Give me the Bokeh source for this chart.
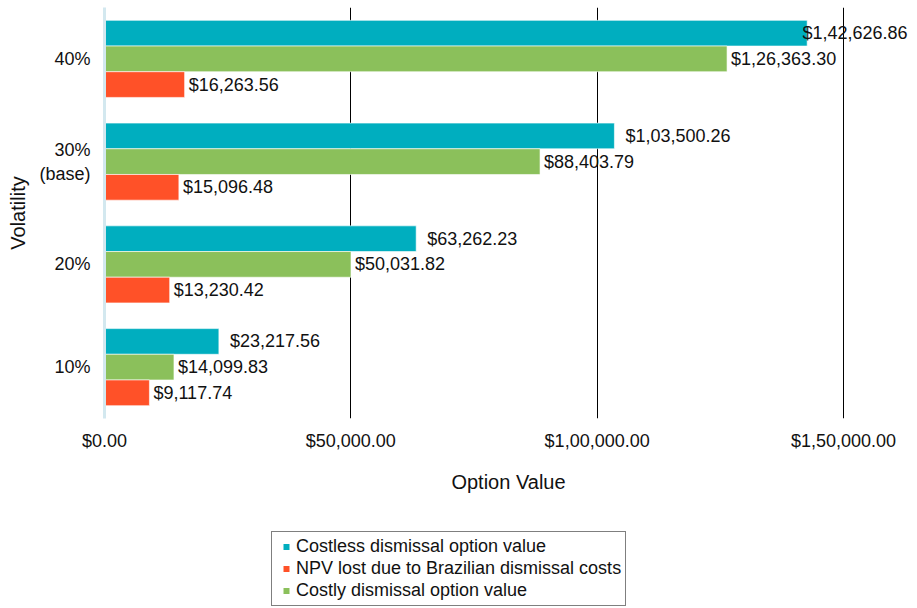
from bokeh.plotting import figure
from bokeh.layouts import column
from bokeh.models import (ColumnDataSource, Range1d, FactorRange, FixedTicker, Legend, LegendItem,
                          CustomJSTickFormatter)
from bokeh.transform import dodge
from bokeh.core.properties import value
from bokeh.embed import file_html
from bokeh.resources import INLINE

# ---- data ----
categories = ["10%", "20%", "30%\n(base)", "40%"]
costless = [23217.56, 63262.23, 103500.26, 142626.86]
costly = [14099.83, 50031.82, 88403.79, 126363.30]
npv_lost = [9117.74, 13230.42, 15096.48, 16263.56]
series_names = ["Costless dismissal option value", "NPV lost due to Brazilian dismissal costs",
                "Costly dismissal option value"]
x_ticks = [0, 50000, 100000, 150000]

TEAL = "#00AEBF"
GREEN = "#8BC05B"
RED = "#FF5128"
FONT = "Liberation Sans"
TXT = "#111111"


def inr(v):
    s = f"{v:.2f}"
    ip, dp = s.split(".")
    last3 = ip[-3:]
    rest = ip[:-3]
    groups = []
    while len(rest) > 2:
        groups.insert(0, rest[-2:])
        rest = rest[:-2]
    if rest:
        groups.insert(0, rest)
    head = ",".join(groups + [last3]) if groups else last3
    return "$" + head + "." + dp


def text_width(s, fs=18):
    w = 0
    for ch in s:
        w += 0.278 if ch in ",." else 0.556
    return w * fs


W, H = 917, 608
H2 = 88                      # legend strip height
H1 = H - H2
LEFT, TOP = 104, 7
FRAME_BOTTOM_PX = 418
AXIS_RIGHT_PX = 843          # pixel where the 150,000 gridline sits
FRAME_RIGHT_PX = 912
xmax = x_ticks[-1]
px_per_unit = (AXIS_RIGHT_PX - LEFT) / xmax
x_end = (FRAME_RIGHT_PX - LEFT) / px_per_unit

p = figure(width=W, height=H1, output_backend="svg", toolbar_location=None,
           x_range=Range1d(0, x_end), y_range=FactorRange(factors=categories),
           min_border_left=LEFT, min_border_right=W - FRAME_RIGHT_PX, min_border_top=TOP,
           min_border_bottom=H1 - FRAME_BOTTOM_PX)
p.outline_line_color = None
p.background_fill_color = "white"
p.border_fill_color = "white"

src = ColumnDataSource(dict(cat=categories, costless=costless, costly=costly, npv=npv_lost))

bh = 0.25
specs = [("costless", TEAL, 0.25, 11), ("costly", GREEN, 0.0, 4), ("npv", RED, -0.25, 4)]
for key, col, dd, off in specs:
    p.hbar(y=dodge("cat", dd, range=p.y_range), right=key, left=0, height=bh, source=src,
           fill_color=col, line_color="white", line_width=0.6)
    vals = src.data[key]
    labels = [inr(v) for v in vals]
    offs = []
    for v, lab in zip(vals, labels):
        end_px = LEFT + v * px_per_unit
        o = off
        limit = FRAME_RIGHT_PX - 5
        if end_px + o + text_width(lab) > limit:
            o = limit - text_width(lab) - end_px
        offs.append(o)
    lsrc = ColumnDataSource(dict(cat=categories, x=vals, text=labels, off=offs))
    p.text(x="x", y=dodge("cat", dd, range=p.y_range), text="text", x_offset="off", source=lsrc,
           text_font=value(FONT), text_font_size=value("18px"), text_baseline="middle",
           text_align="left", text_color=TXT)

# x axis
p.xaxis.ticker = FixedTicker(ticks=x_ticks)
p.xaxis.formatter = CustomJSTickFormatter(code="""
const s = tick.toFixed(2);
let [ip, dp] = s.split(".");
let last3 = ip.slice(-3);
let rest = ip.slice(0, -3);
const groups = [];
while (rest.length > 2) { groups.unshift(rest.slice(-2)); rest = rest.slice(0, -2); }
if (rest.length) groups.unshift(rest);
groups.push(last3);
return "$" + groups.join(",") + "." + dp;
""")
p.xaxis.axis_line_color = None
p.xaxis.major_tick_line_color = None
p.xaxis.minor_tick_line_color = None
p.xaxis.major_label_standoff = 6
p.xaxis.major_label_text_font = FONT
p.xaxis.major_label_text_font_size = "18px"
p.xaxis.major_label_text_color = TXT
p.xaxis.axis_label = "Option Value"
p.xaxis.axis_label_text_font = FONT
p.xaxis.axis_label_text_font_size = "20px"
p.xaxis.axis_label_text_font_style = "normal"
p.xaxis.axis_label_text_color = TXT
p.xaxis.axis_label_standoff = 17

# y axis
p.yaxis.axis_line_color = "#D3E8EF"
p.yaxis.axis_line_width = 3
p.yaxis.major_tick_line_color = None
p.yaxis.minor_tick_line_color = None
p.yaxis.major_label_standoff = 8
p.yaxis.major_label_text_font = FONT
p.yaxis.major_label_text_font_size = "18px"
p.yaxis.major_label_text_color = TXT
p.yaxis.axis_label = "Volatility"
p.yaxis.axis_label_text_font = FONT
p.yaxis.axis_label_text_font_size = "20px"
p.yaxis.axis_label_text_font_style = "normal"
p.yaxis.axis_label_text_color = TXT
p.yaxis.axis_label_standoff = 7

p.xgrid.ticker = FixedTicker(ticks=x_ticks[1:])
p.xgrid.grid_line_color = "black"
p.xgrid.grid_line_width = 1
p.ygrid.grid_line_color = None

# ---- legend strip (frame is aligned with the main frame by the column layout) ----
p2 = figure(width=W, height=H2, output_backend="svg", toolbar_location=None,
            x_range=Range1d(0, 1), y_range=Range1d(0, 1),
            min_border_left=0, min_border_right=0, min_border_top=0, min_border_bottom=0)
p2.axis.visible = False
p2.grid.visible = False
p2.outline_line_color = None
p2.border_fill_color = "white"
nan = float("nan")
proxies = []
for col in [TEAL, RED, GREEN]:
    proxies.append(p2.scatter(x=[nan], y=[nan], marker="square", size=8, fill_color=col,
                              line_color=None))
legend = Legend(items=[LegendItem(label=n, renderers=[r]) for n, r in zip(series_names, proxies)],
                location=(271 - LEFT, 2))
legend.margin = 0
legend.padding = 4
legend.spacing = 1
legend.label_height = 15
legend.glyph_height = 15
legend.glyph_width = 20
legend.label_standoff = 0
legend.label_text_font = FONT
legend.label_text_font_size = "18px"
legend.label_text_color = TXT
legend.border_line_color = "black"
legend.border_line_width = 1
legend.background_fill_color = "white"
legend.background_fill_alpha = 1
p2.add_layout(legend, "center")

layout = column(p, p2, spacing=0)
open("out.html", "w").write(file_html(layout, INLINE))
